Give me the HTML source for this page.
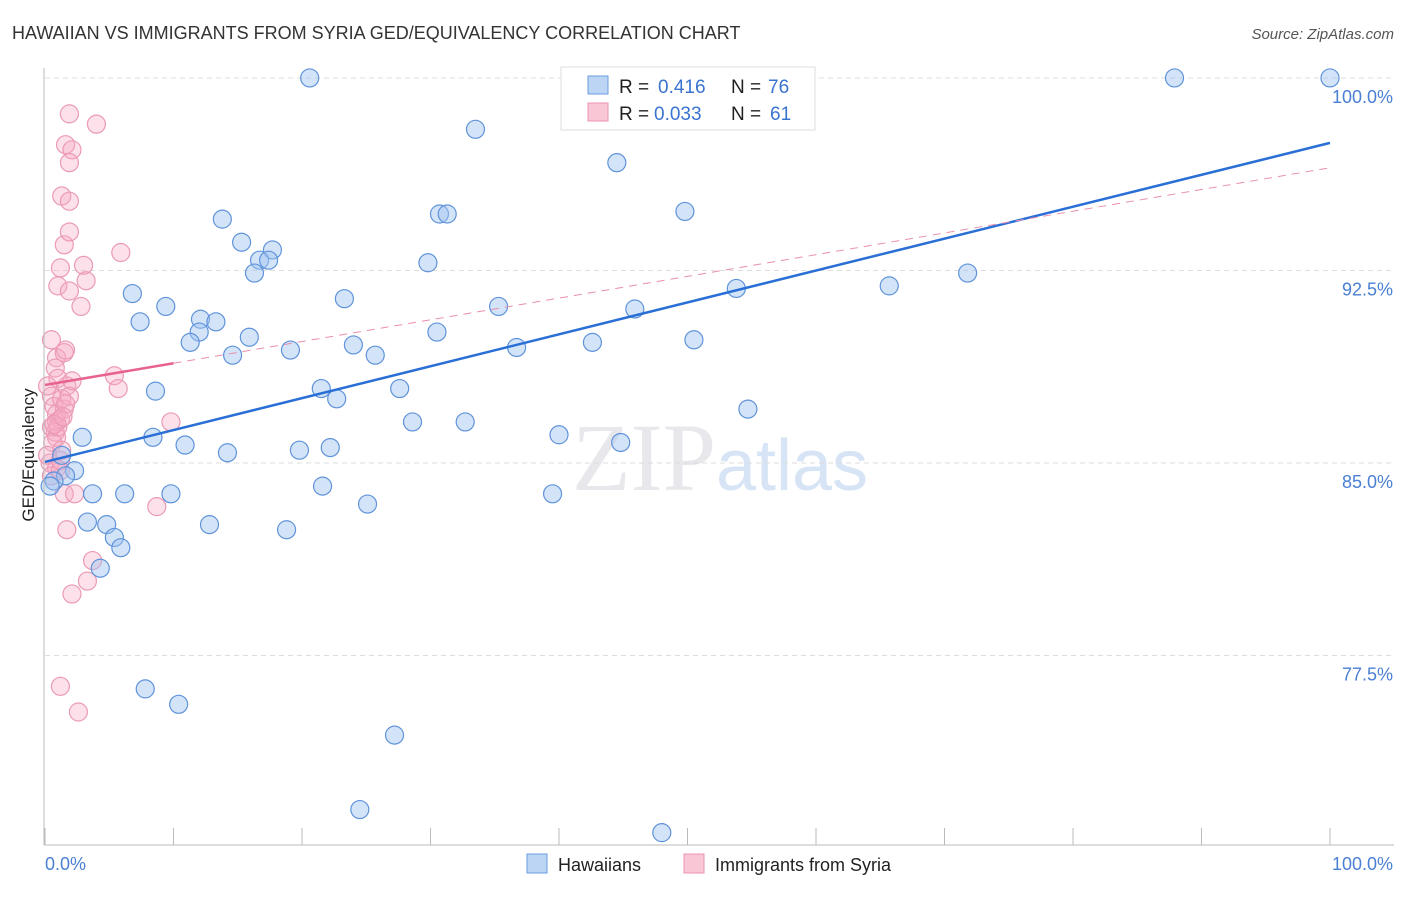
<!DOCTYPE html>
<html><head><meta charset="utf-8"><style>
body{margin:0;background:#fff;font-family:"Liberation Sans",sans-serif}
svg text{font-family:"Liberation Sans",sans-serif}
</style></head><body>
<svg id="chart" width="1406" height="892" viewBox="0 0 1406 892">
<text x="12" y="39" font-size="18" fill="#333">HAWAIIAN VS IMMIGRANTS FROM SYRIA GED/EQUIVALENCY CORRELATION CHART</text>
<text x="1394" y="39" font-size="15" fill="#555" text-anchor="end" font-style="italic">Source: ZipAtlas.com</text>
<text x="720" y="490" font-size="96" text-anchor="middle" fill="#e8e8ec"><tspan font-family="Liberation Serif">ZIP</tspan><tspan fill="#d6e4f5" font-size="72">atlas</tspan></text>
<text transform="translate(34,455) rotate(-90)" font-size="17" fill="#222" text-anchor="middle">GED/Equivalency</text>
<g id="grid"></g><g id="pink"></g><g id="blue"></g><g id="trends"></g>
<line x1="44" y1="845" x2="1394" y2="845" stroke="#bbb"/>
<line x1="44" y1="68" x2="44" y2="845" stroke="#bbb"/>
<text x="45" y="870" font-size="18" fill="#4a7fd4">0.0%</text>
<text x="1393" y="870" font-size="18" fill="#4a7fd4" text-anchor="end">100.0%</text>
<g>
<rect x="561" y="67" width="254" height="63" fill="#fff" stroke="#ddd"/>
<rect x="588" y="76" width="20" height="18" fill="#bcd5f5" stroke="#6a9de0"/>
<rect x="588" y="103" width="20" height="18" fill="#f9c6d6" stroke="#ea93b0"/>
<text x="619" y="93" font-size="19" fill="#222">R =</text>
<text x="658" y="93" font-size="19" fill="#3a73d0">0.416</text>
<text x="731" y="93" font-size="19" fill="#222">N =</text>
<text x="768" y="93" font-size="19" fill="#3a73d0">76</text>
<text x="619" y="120" font-size="19" fill="#222">R =</text>
<text x="654" y="120" font-size="19" fill="#3a73d0">0.033</text>
<text x="731" y="120" font-size="19" fill="#222">N =</text>
<text x="770" y="120" font-size="19" fill="#3a73d0">61</text>
</g>
<g>
<rect x="527" y="854" width="20" height="19" fill="#bcd5f5" stroke="#6a9de0"/>
<text x="558" y="871" font-size="18" fill="#222">Hawaiians</text>
<rect x="684" y="854" width="20" height="19" fill="#f9c6d6" stroke="#ea93b0"/>
<text x="715" y="871" font-size="18" fill="#222">Immigrants from Syria</text>
</g>
</svg>
<script>
const yTicks=[100,92.5,85,77.5];
const yTickLabels=["100.0%","92.5%","85.0%","77.5%"];
const xTicks=[0,10,20,30,40,50,60,70,80,90,100];
const blueX=[20.6,87.9,100,33.5,44.5,49.8,13.8,30.7,31.3,15.3,17.7,16.7,17.4,16.3,29.8,71.8,65.7,6.8,9.4,23.3,35.3,53.8,45.9,7.4,12.1,13.3,12.0,11.3,15.9,30.5,19.1,24.0,25.7,14.6,36.7,42.6,50.5,8.6,21.5,22.7,27.6,54.7,28.6,32.7,8.4,2.9,10.9,40.0,44.8,14.2,19.8,22.2,1.3,2.3,1.6,0.7,0.4,3.7,6.2,9.8,21.6,25.1,39.5,3.3,4.8,12.8,5.4,18.8,5.9,4.3,7.8,10.4,27.2,24.5,48.0];
const blueY=[100,100,100,98.0,96.7,94.8,94.5,94.7,94.7,93.6,93.3,92.9,92.9,92.4,92.8,92.4,91.9,91.6,91.1,91.4,91.1,91.8,91.0,90.5,90.6,90.5,90.1,89.7,89.9,90.1,89.4,89.6,89.2,89.2,89.5,89.7,89.8,87.8,87.9,87.5,87.9,87.1,86.6,86.6,86.0,86.0,85.7,86.1,85.8,85.4,85.5,85.6,85.3,84.7,84.5,84.3,84.1,83.8,83.8,83.8,84.1,83.4,83.8,82.7,82.6,82.6,82.1,82.4,81.7,80.9,76.2,75.6,74.4,71.5,70.6];
const pinkX=[1.9,4.0,1.6,2.1,1.9,1.3,1.9,1.5,1.9,5.9,1.2,3.0,1.0,1.9,3.2,2.8,0.5,0.9,1.5,1.6,0.8,1.0,5.4,5.7,1.7,2.1,0.5,0.7,1.5,0.9,0.9,1.2,0.5,0.8,0.9,0.6,1.3,0.4,0.9,0.5,1.5,2.3,9.8,8.7,1.7,3.7,3.3,2.1,1.2,2.6,1.2,0.2,1.2,1.0,1.3,0.2,1.9,0.7,1.6,1.4];
const pinkY=[98.6,98.2,97.4,97.2,96.7,95.4,95.2,93.5,94.0,93.2,92.6,92.7,91.9,91.7,92.1,91.1,89.8,89.1,89.3,89.4,88.7,88.3,88.4,87.9,88.0,88.2,87.6,87.2,87.1,86.9,86.6,86.7,86.4,86.2,86.0,85.8,85.5,85.0,84.8,84.5,83.8,83.8,86.6,83.3,82.4,81.2,80.4,79.9,76.3,75.3,84.7,85.3,85.1,86.4,87.5,88.0,87.6,86.5,87.3,86.8];
const blueTrend=[85.04,97.47];
const pinkTrend=[88.04,96.5];
const pinkSolidEnd=10;
const NS="http://www.w3.org/2000/svg";
const X=v=>45+v*12.85, Y=v=>463-(v-85)*25.67;
function mk(t,a,p){const e=document.createElementNS(NS,t);for(const k in a)e.setAttribute(k,a[k]);p.appendChild(e);return e;}
const grid=document.getElementById('grid');
yTicks.forEach((t,i)=>{
 const l=mk('line',{x1:45,x2:1394,y1:Y(t),y2:Y(t),stroke:'#ddd','stroke-dasharray':'5,4'},grid);
 
 
 const tx=mk('text',{x:1393,y:Y(t)+25,'font-size':18,fill:'#4a7fd4','text-anchor':'end'},grid);
 tx.textContent=yTickLabels[i];
 
 
});
xTicks.forEach(t=>{
 const l=mk('line',{x1:X(t),x2:X(t),y1:828,y2:845,stroke:'#bbb'},grid);
 
 
});
function pts(xs,ys,g,fill,stroke,name){
 xs.forEach((x,i)=>{
  const c=mk('circle',{cx:X(x),cy:Y(ys[i]),r:9,fill:fill,stroke:stroke,'stroke-width':1.2},g);
  
  
 });
}
pts(pinkX,pinkY,document.getElementById('pink'),'rgba(246,170,195,0.35)','#eb9ab5','pink-point');
pts(blueX,blueY,document.getElementById('blue'),'rgba(160,196,240,0.45)','#5f93da','blue-point');
const tr=document.getElementById('trends');
const bl=mk('line',{x1:X(0),y1:Y(blueTrend[0]),x2:X(100),y2:Y(blueTrend[1]),stroke:'#2a6fd6','stroke-width':2.5},tr);


const pe=pinkTrend[0]+(pinkTrend[1]-pinkTrend[0])*pinkSolidEnd/100;
const pd=mk('line',{x1:X(pinkSolidEnd),y1:Y(pe),x2:X(100),y2:Y(pinkTrend[1]),stroke:'#ea8fae','stroke-width':1,'stroke-dasharray':'8,6'},tr);


const ps=mk('line',{x1:X(0),y1:Y(pinkTrend[0]),x2:X(pinkSolidEnd),y2:Y(pe),stroke:'#e8628e','stroke-width':2.5},tr);


</script>
</body></html>
